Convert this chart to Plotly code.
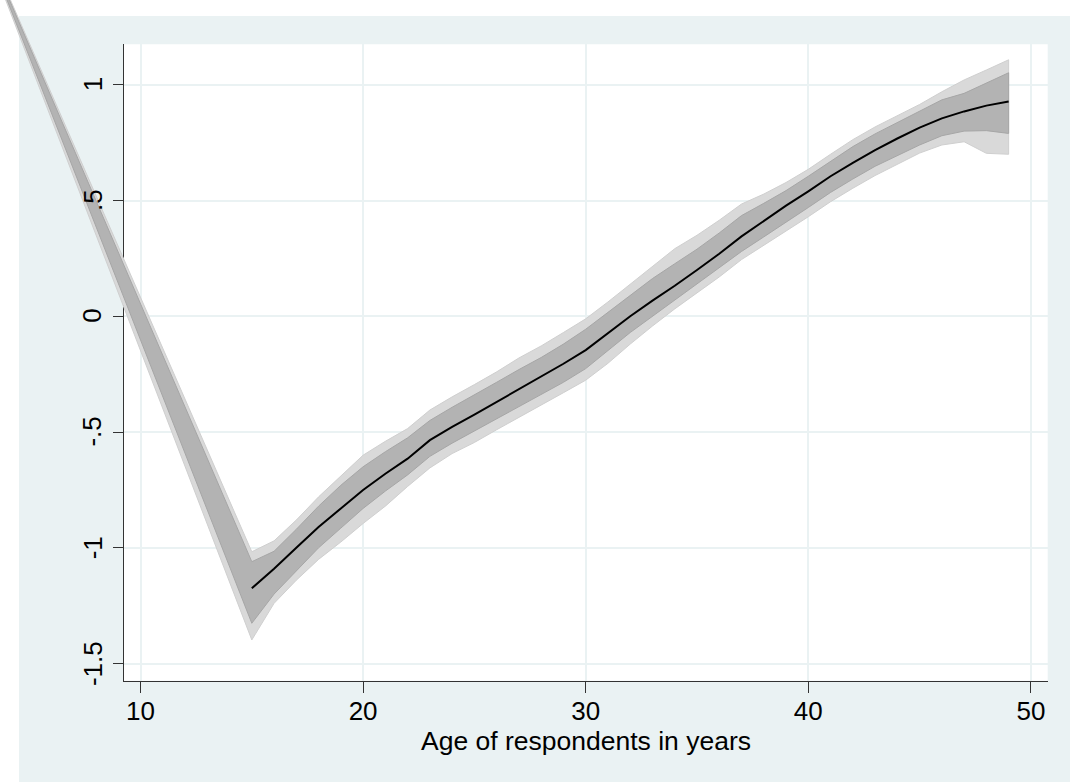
import plotly.graph_objects as go

# ---------------- data ----------------
band_age = [3.5] + list(range(15, 50))
outer_hi = [1.511, -1.017, -0.970, -0.880, -0.780, -0.690, -0.600, -0.540, -0.485, -0.405, -0.348,
            -0.295, -0.240, -0.180, -0.128, -0.070, -0.011, 0.062, 0.140, 0.218, 0.292,
            0.350, 0.415, 0.485, 0.528, 0.578, 0.635, 0.700, 0.763, 0.818, 0.868,
            0.915, 0.970, 1.021, 1.064, 1.108]
inner_hi = [1.503, -1.060, -1.015, -0.920, -0.820, -0.730, -0.650, -0.585, -0.525, -0.450, -0.393,
            -0.340, -0.285, -0.230, -0.178, -0.120, -0.056, 0.017, 0.090, 0.163, 0.227,
            0.290, 0.360, 0.435, 0.488, 0.543, 0.605, 0.670, 0.733, 0.788, 0.838,
            0.885, 0.935, 0.963, 1.006, 1.052]
inner_lo = [1.490, -1.326, -1.200, -1.100, -1.000, -0.915, -0.830, -0.755, -0.685, -0.605, -0.548,
            -0.495, -0.445, -0.390, -0.338, -0.285, -0.226, -0.148, -0.070, 0.003, 0.072,
            0.140, 0.210, 0.280, 0.343, 0.408, 0.470, 0.535, 0.593, 0.648, 0.693,
            0.740, 0.780, 0.800, 0.802, 0.790]
outer_lo = [1.477, -1.398, -1.240, -1.140, -1.050, -0.975, -0.895, -0.820, -0.735, -0.655, -0.593,
            -0.545, -0.490, -0.435, -0.383, -0.330, -0.276, -0.203, -0.120, -0.042, 0.032,
            0.100, 0.170, 0.245, 0.308, 0.368, 0.430, 0.495, 0.553, 0.608, 0.658,
            0.705, 0.740, 0.754, 0.704, 0.700]

line_age = list(range(15, 50))
line_val = [-1.175, -1.090, -1.000, -0.910, -0.830, -0.750, -0.680, -0.615, -0.535, -0.478,
            -0.425, -0.370, -0.315, -0.263, -0.205, -0.146, -0.073, 0.000, 0.068, 0.132,
            0.200, 0.270, 0.345, 0.413, 0.478, 0.540, 0.605, 0.663, 0.718, 0.768,
            0.815, 0.855, 0.885, 0.910, 0.928]

x_ticks = [10, 20, 30, 40, 50]
y_ticks = [-1.5, -1, -0.5, 0, 0.5, 1]
y_ticktext = ["-1.5", "-1", "-.5", "0", ".5", "1"]
x_title = "Age of respondents in years"

# ---------------- layout geometry ----------------
W, H = 1070, 782
PX_X10, PX_PER_YEAR = 140.5, 22.26
PX_Y0, PX_PER_UNIT = 316.3, 231.5
PLOT_L, PLOT_R, PLOT_T, PLOT_B = 123.5, 1047.7, 44.3, 680.7
REGION_L, REGION_T = 19, 16
YLABEL_PX = 92.5
TITLE_PY = 741


def xval(px):
    return 10 + (px - PX_X10) / PX_PER_YEAR


def yval(py):
    return (PX_Y0 - py) / PX_PER_UNIT


BG = "#EAF2F3"
AX = "#333333"
FONT = "Liberation Sans, Arial, Helvetica, sans-serif"

fig = go.Figure()


def band(lo, hi, fill, edge):
    xs = band_age + band_age[::-1]
    ys = hi + lo[::-1]
    fig.add_trace(go.Scatter(x=xs, y=ys, xaxis="x2", yaxis="y2", mode="lines",
                             fill="toself", fillcolor=fill,
                             line=dict(color=edge, width=1), hoverinfo="skip"))


band(outer_lo, outer_hi, "#D9D9D9", "#CFCFCF")
band(inner_lo, inner_hi, "#B3B3B3", "#A6A6A6")
fig.add_trace(go.Scatter(x=line_age, y=line_val, xaxis="x2", yaxis="y2", mode="lines",
                         line=dict(color="black", width=2)))

# invisible trace so main axes exist
fig.add_trace(go.Scatter(x=[x_ticks[0]], y=[y_ticks[0]], mode="markers",
                         marker=dict(opacity=0), hoverinfo="skip"))

annotations = [
    dict(text=x_title, xref="paper", yref="paper", x=(PLOT_L + PLOT_R) / 2 / W,
         y=1 - TITLE_PY / H, xanchor="center", yanchor="middle", showarrow=False,
         font=dict(size=26.5, family=FONT, color="black")),
]
for v, t in zip(y_ticks, y_ticktext):
    annotations.append(dict(text=t, xref="paper", yref="y", x=YLABEL_PX / W, y=v,
                            xanchor="center", yanchor="middle", textangle=-90,
                            showarrow=False,
                            font=dict(size=26, family=FONT, color="black")))

fig.update_layout(
    width=W, height=H,
    margin=dict(l=0, r=0, t=0, b=0),
    paper_bgcolor="white",
    plot_bgcolor="rgba(0,0,0,0)",
    showlegend=False,
    font=dict(family=FONT, size=26, color="black"),
    xaxis=dict(domain=[PLOT_L / W, PLOT_R / W], range=[xval(PLOT_L), xval(PLOT_R)],
               tickmode="array", tickvals=x_ticks, ticks="outside", ticklen=11,
               tickwidth=1, tickcolor=AX, showline=True, linecolor=AX, linewidth=1,
               showgrid=True, gridcolor=BG, gridwidth=2, zeroline=False,
               tickfont=dict(size=26), ticklabelstandoff=-4, anchor="y"),
    yaxis=dict(domain=[1 - PLOT_B / H, 1 - PLOT_T / H], range=[yval(PLOT_B), yval(PLOT_T)],
               tickmode="array", tickvals=y_ticks, showticklabels=False,
               ticks="outside", ticklen=10, tickwidth=1, tickcolor=AX,
               showline=True, linecolor=AX, linewidth=1,
               showgrid=True, gridcolor=BG, gridwidth=2, zeroline=False, anchor="x"),
    xaxis2=dict(domain=[0, 1], range=[xval(0), xval(W)], visible=False, anchor="y2"),
    yaxis2=dict(domain=[0, 1], range=[yval(H), yval(0)], visible=False, anchor="x2"),
    shapes=[
        dict(type="rect", xref="paper", yref="paper", x0=REGION_L / W, x1=1,
             y0=0, y1=1 - REGION_T / H, fillcolor=BG, line=dict(width=0), layer="below"),
        dict(type="rect", xref="paper", yref="paper", x0=PLOT_L / W, x1=PLOT_R / W,
             y0=1 - PLOT_B / H, y1=1 - PLOT_T / H, fillcolor="white",
             line=dict(width=0), layer="below"),
    ],
    annotations=annotations,
)

fig.write_html("out.html")
